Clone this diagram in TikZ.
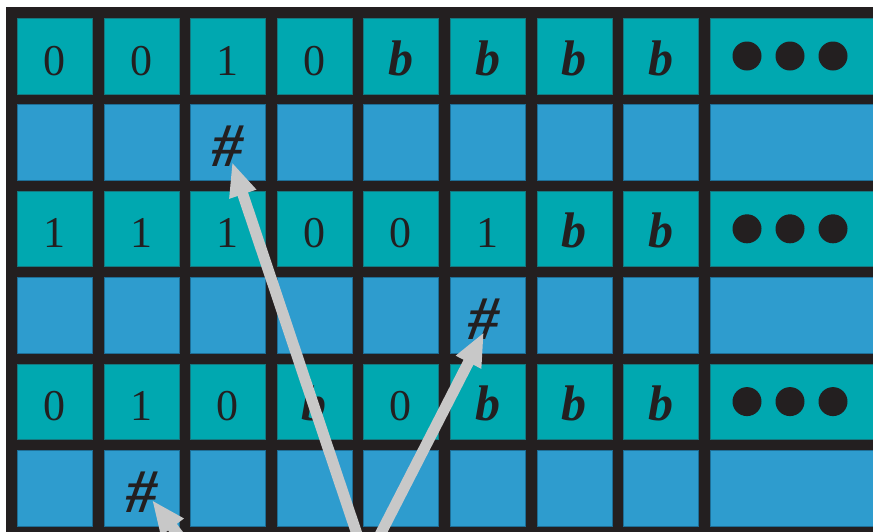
\documentclass[tikz,border=0pt]{standalone}
\usepackage{fontspec}
\setmainfont{Liberation Serif}
\usetikzlibrary{arrows.meta}
\definecolor{gridc}{RGB}{35,31,32}
\definecolor{tealc}{RGB}{0,168,176}
\definecolor{tealedge}{RGB}{20,120,128}
\definecolor{bluec}{RGB}{46,156,206}
\definecolor{blueedge}{RGB}{30,110,150}
\definecolor{ptrgray}{RGB}{200,200,200}
\tikzset{
  tcell/.style={fill=tealc, draw=tealedge, line width=0.7pt, minimum width=75pt, minimum height=75.5pt, inner sep=0pt, anchor=north west},
  bcell/.style={fill=bluec, draw=blueedge, line width=0.7pt, minimum width=75pt, minimum height=75.5pt, inner sep=0pt, anchor=north west},
  digit/.style={anchor=base, inner sep=0pt, text=gridc, font=\fontsize{44}{44}\selectfont},
  bsym/.style={anchor=base, inner sep=0pt, text=gridc, font=\fontsize{50}{50}\selectfont\bfseries\itshape},
  hsym/.style={anchor=base, inner sep=0pt, text=gridc, font=\fontsize{62}{62}\selectfont\bfseries\itshape},
  dotc/.style={circle, fill=gridc, minimum size=29pt, inner sep=0pt},
  ptr/.style={draw=ptrgray, line width=11pt, -{Triangle[length=34pt,width=26pt]}},
}
\begin{document}
\begin{tikzpicture}[x=1pt,y=-1pt]
\clip (0,0) rectangle (873,531);
\fill[white] (0,0) rectangle (873,531);
\fill[gridc] (6,7) rectangle (880,540);
% cells
\foreach \r in {1,...,6}{
  \pgfmathsetmacro{\yy}{18+(\r-1)*86.4}
  \ifodd\r \def\cs{tcell}\else\def\cs{bcell}\fi
  \foreach \c in {1,...,8}{
    \pgfmathsetmacro{\xx}{17+(\c-1)*86.6}
    \node[\cs] (c\r-\c) at (\xx,\yy) {};
  }
  \node[\cs, minimum width=180pt] (c\r-9) at (709.8,\yy) {};
}
% row contents
\foreach \r/\lst in {1/{0,0,1,0,b,b,b,b},3/{1,1,1,0,0,1,b,b},5/{0,1,0,b,0,b,b,b}}{
  \pgfmathsetmacro{\yy}{18+(\r-1)*86.4+57}
  \foreach \v [count=\c] in \lst {
    \pgfmathsetmacro{\xx}{17+(\c-1)*86.6+37.5}
    \if b\v
      \node[bsym] (t\r-\c) at (\xx,\yy) {b};
    \else
      \node[digit] (t\r-\c) at (\xx,\yy) {\v};
    \fi
  }
  \pgfmathsetmacro{\yd}{18+(\r-1)*86.4+38}
  \node[dotc] (d\r-1) at (747,\yd) {};
  \node[dotc] (d\r-2) at (790,\yd) {};
  \node[dotc] (d\r-3) at (833,\yd) {};
}
% head markers
\node[hsym] (h2) at (228,166.4) {\#};
\node[hsym] (h4) at (484,339.2) {\#};
\node[hsym] (h6) at (141.5,512) {\#};
% pointer arrows
\coordinate (p1) at (232,162);
\coordinate (p2) at (484,332);
\coordinate (p3) at (152,500);
\coordinate (s1) at (369,570);
\coordinate (s2) at (362,570);
\coordinate (s3) at (201,565);
\draw[ptr] (s1) -- (p1);
\draw[ptr] (s2) -- (p2);
\draw[ptr] (s3) -- (p3);
\end{tikzpicture}
\end{document}
